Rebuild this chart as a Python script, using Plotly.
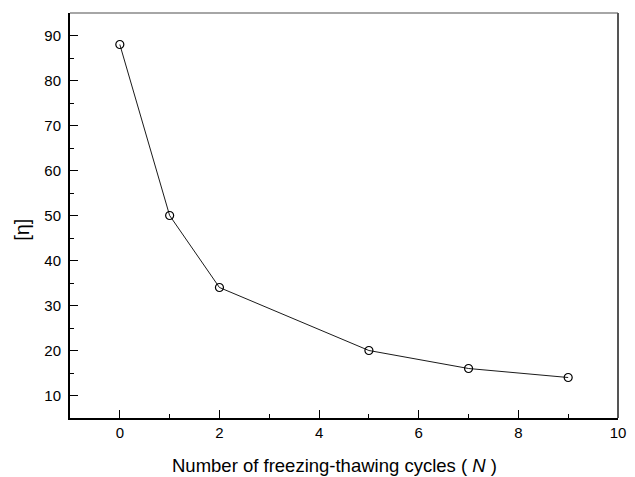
import plotly.graph_objects as go

cycles = [0, 1, 2, 5, 7, 9]
eta = [88, 50, 34, 20, 16, 14]
x_ticks = [0, 2, 4, 6, 8, 10]
y_ticks = [10, 20, 30, 40, 50, 60, 70, 80, 90]

font_family = "Liberation Sans, Arial, Helvetica, sans-serif"

fig = go.Figure()
fig.add_trace(go.Scatter(
    x=cycles, y=eta, mode="lines+markers",
    line=dict(color="black", width=0.9),
    marker=dict(symbol="circle-open", size=8, color="black", line=dict(width=1.2)),
    showlegend=False,
))

fig.update_layout(
    width=635, height=477,
    margin=dict(l=70, r=9, t=13, b=59),
    paper_bgcolor="white", plot_bgcolor="white",
    font=dict(family=font_family, color="black"),
    xaxis=dict(
        range=[-1, 10], tickvals=x_ticks, ticktext=[str(v) for v in x_ticks],
        showgrid=False, zeroline=False,
        showline=True, linecolor="black", linewidth=2,
        ticks="inside", ticklen=8, tickwidth=1.2, tickcolor="black",
        minor=dict(tickvals=[1, 3, 5, 7, 9], ticks="inside", ticklen=4, tickwidth=1.2, tickcolor="black"),
        tickfont=dict(size=15, family=font_family),
    ),
    yaxis=dict(
        range=[5, 95], tickvals=y_ticks, ticktext=[str(v) for v in y_ticks],
        showgrid=False, zeroline=False,
        showline=True, linecolor="black", linewidth=2,
        ticks="inside", ticklen=8, tickwidth=1.2, tickcolor="black",
        minor=dict(tickvals=[15, 25, 35, 45, 55, 65, 75, 85], ticks="inside", ticklen=4, tickwidth=1.2, tickcolor="black"),
        tickfont=dict(size=15, family=font_family),
        ticklabelstandoff=4,
    ),
    annotations=[
        dict(text="Number of freezing-thawing cycles ( <i>N</i> )",
             xref="paper", yref="paper", x=0.4830, y=-0.1185,
             xanchor="center", yanchor="middle", showarrow=False,
             font=dict(size=18.5, family=font_family, color="black")),
        dict(text="[η]", xref="paper", yref="paper", x=-0.088, y=0.464,
             xanchor="center", yanchor="middle", showarrow=False, textangle=-90,
             font=dict(size=20, family=font_family, color="black")),
    ],
    shapes=[
        dict(type="line", xref="paper", yref="paper", x0=0, x1=1, y0=1, y1=1,
             line=dict(color="#888888", width=1.5)),
        dict(type="line", xref="paper", yref="paper", x0=1, x1=1, y0=0, y1=1,
             line=dict(color="#555555", width=2)),
    ],
)

fig.write_html("out.html")
